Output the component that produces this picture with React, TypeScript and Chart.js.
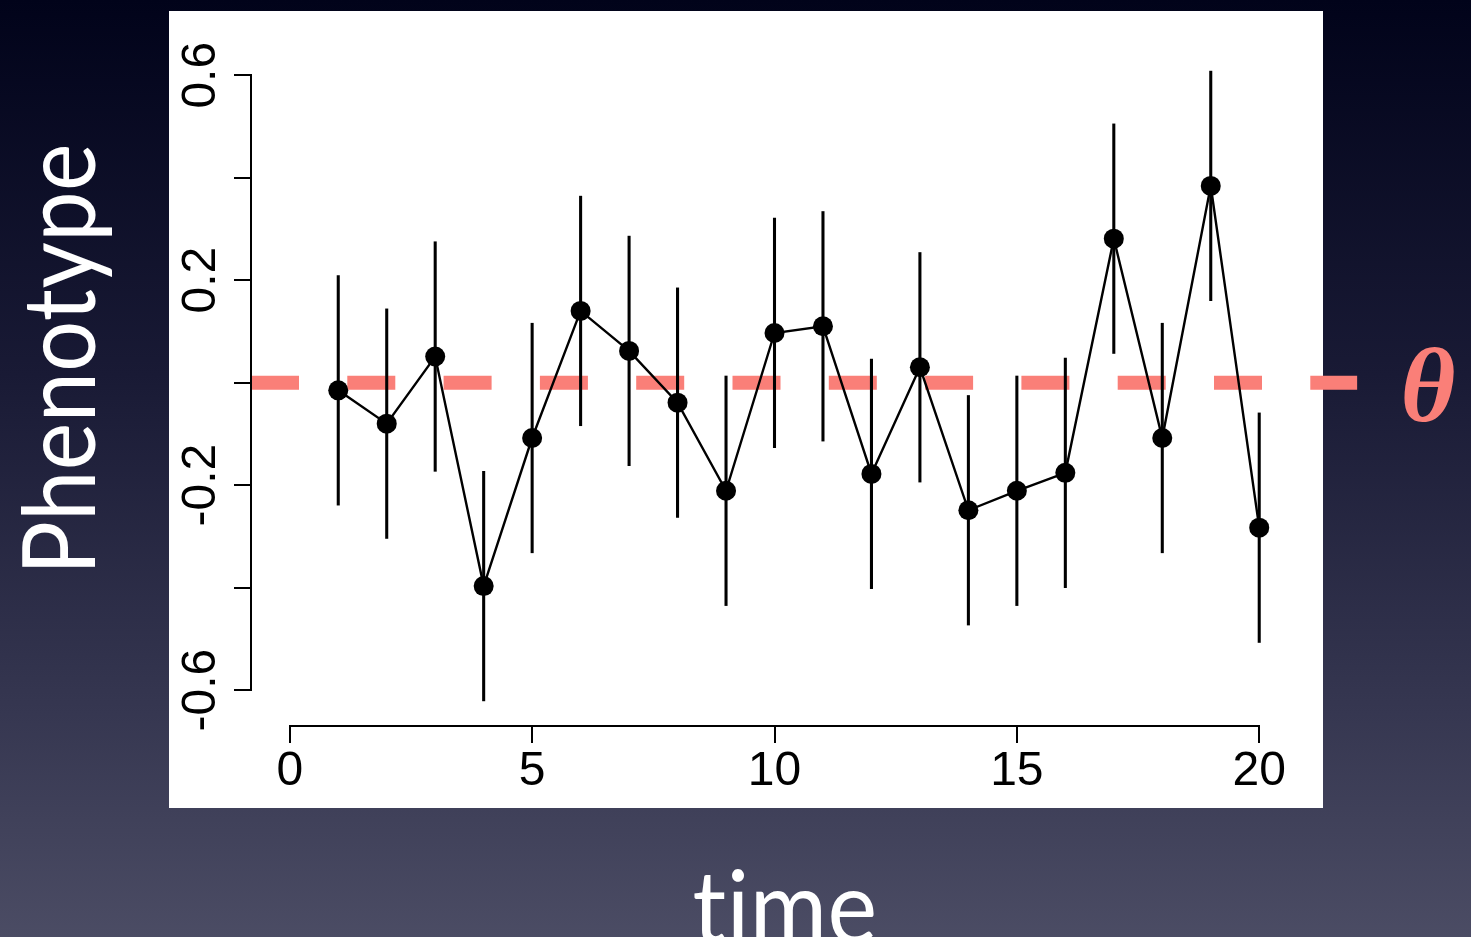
import React, { useEffect, useRef } from 'react';
import { Chart, registerables } from 'chart.js';

Chart.register(...registerables);

// ---- data ----
const times = [1, 2, 3, 4, 5, 6, 7, 8, 9, 10, 11, 12, 13, 14, 15, 16, 17, 18, 19, 20];
const phenotype = [
  -0.015, -0.08, 0.051, -0.397, -0.108, 0.14, 0.062, -0.039, -0.211, 0.097,
  0.11, -0.178, 0.03, -0.249, -0.211, -0.176, 0.281, -0.108, 0.384, -0.283,
];
const errorHalfWidth = [
  0.224, 0.224, 0.224, 0.224, 0.224, 0.224, 0.224, 0.224, 0.224, 0.224,
  0.224, 0.224, 0.224, 0.224, 0.224, 0.224, 0.224, 0.224, 0.224, 0.224,
];
const theta = 0;
const thetaSpan = [-0.8, 22.02];

const xTickValues = [0, 5, 10, 15, 20];
const xTickLabels = ['0', '5', '10', '15', '20'];
const yTickValues = [-0.6, -0.4, -0.2, 0, 0.2, 0.4, 0.6];
const yTickLabels = ['-0.6', '', '-0.2', '', '0.2', '', '0.6'];

const xTitle = 'time';
const yTitle = 'Phenotype';
const thetaLabel = 'θ';

const SALMON = '#fa7f78';
const TICK_FONT = '"Liberation Sans", Arial, Helvetica, sans-serif';

export default function App() {
  const ref = useRef<HTMLCanvasElement>(null);

  useEffect(() => {
    const canvas = ref.current;
    if (!canvas) return;

    const decor = {
      id: 'decor',
      beforeDraw(chart: any) {
        const ctx = chart.ctx;
        ctx.save();
        ctx.fillStyle = '#ffffff';
        ctx.fillRect(169, 11, 1154, 797);
        ctx.restore();
      },
      afterDraw(chart: any) {
        const { ctx, chartArea, scales } = chart;
        const x = scales.x;
        const y = scales.y;
        ctx.save();
        // R-style axis lines spanning first to last tick
        ctx.strokeStyle = '#000';
        ctx.lineWidth = 2;
        ctx.beginPath();
        const ax = Math.round(chartArea.left);
        ctx.moveTo(ax, Math.round(y.getPixelForValue(yTickValues[yTickValues.length - 1])) - 1);
        ctx.lineTo(ax, Math.round(y.getPixelForValue(yTickValues[0])) + 1);
        const ay = Math.round(chartArea.bottom);
        ctx.moveTo(Math.round(x.getPixelForValue(xTickValues[0])) - 1, ay);
        ctx.lineTo(Math.round(x.getPixelForValue(xTickValues[xTickValues.length - 1])) + 1, ay);
        ctx.stroke();

        // axis titles
        ctx.fillStyle = '#ffffff';
        ctx.font = '100px Lato, "Open Sans", sans-serif';
        ctx.textAlign = 'center';
        ctx.textBaseline = 'alphabetic';
        try {
          (ctx as any).letterSpacing = '0.5px';
        } catch (e) {
          /* ignore */
        }
        const wy = ctx.measureText(yTitle).width;
        ctx.save();
        ctx.translate(95, 359);
        ctx.rotate(-Math.PI / 2);
        ctx.scale(432 / wy, 1);
        ctx.fillText(yTitle, 0, 0);
        ctx.restore();

        const wx = ctx.measureText(xTitle).width;
        ctx.save();
        ctx.translate(785, 943);
        ctx.scale(185 / wx, 1);
        ctx.fillText(xTitle, 0, 0);
        ctx.restore();
        try {
          (ctx as any).letterSpacing = '0px';
        } catch (e) {
          /* ignore */
        }

        // theta label
        ctx.fillStyle = SALMON;
        ctx.font = 'italic bold 106px "Liberation Serif", "DejaVu Serif", serif';
        ctx.textAlign = 'center';
        ctx.fillText(thetaLabel, 1428, 421);
        ctx.restore();
      },
    };

    const chart = new Chart(canvas, {
      type: 'line',
      data: {
        datasets: [
          {
            type: 'line',
            data: times.map((t, i) => ({ x: t, y: phenotype[i] })),
            borderColor: '#000',
            borderWidth: 2.4,
            pointRadius: 10,
            pointHoverRadius: 10,
            pointBackgroundColor: '#000',
            pointBorderWidth: 0,
            tension: 0,
            order: 1,
            clip: false,
          } as any,
          {
            type: 'bar',
            data: times.map((t, i) => ({
              x: t,
              y: [phenotype[i] - errorHalfWidth[i], phenotype[i] + errorHalfWidth[i]],
            })),
            backgroundColor: '#000',
            borderWidth: 0,
            barThickness: 2.4,
            order: 2,
            clip: false,
          } as any,
          {
            type: 'line',
            data: thetaSpan.map((v) => ({ x: v, y: theta })),
            borderColor: SALMON,
            borderWidth: 14,
            borderDash: [48, 48.3],
            borderCapStyle: 'butt',
            pointRadius: 0,
            fill: false,
            order: 3,
            clip: false,
          } as any,
        ],
      },
      options: {
        responsive: false,
        animation: false,
        devicePixelRatio: 1,
        events: [],
        layout: { padding: { left: 0, right: 173, top: 46, bottom: 0 } },
        plugins: { legend: { display: false }, tooltip: { enabled: false } },
        scales: {
          x: {
            type: 'linear',
            min: -0.8,
            max: 20.8,
            offset: false,
            afterBuildTicks: (s: any) => {
              s.ticks = xTickValues.map((v) => ({ value: v }));
            },
            afterFit: (s: any) => {
              s.height = 211;
            },
            grid: {
              offset: false,
              drawOnChartArea: false,
              drawTicks: true,
              tickLength: 17,
              color: '#000',
              lineWidth: 2,
            },
            border: { display: false },
            ticks: {
              autoSkip: false,
              maxRotation: 0,
              padding: 0,
              color: '#000',
              font: { family: TICK_FONT, size: 48 },
              callback: (_v: any, i: number) => xTickLabels[i],
            },
          },
          y: {
            type: 'linear',
            min: -0.67,
            max: 0.657,
            afterBuildTicks: (s: any) => {
              s.ticks = yTickValues.map((v) => ({ value: v }));
            },
            afterFit: (s: any) => {
              s.width = 251;
            },
            grid: {
              offset: false,
              drawOnChartArea: false,
              drawTicks: true,
              tickLength: 17,
              color: '#000',
              lineWidth: 2,
            },
            border: { display: false },
            ticks: {
              autoSkip: false,
              minRotation: 90,
              maxRotation: 90,
              crossAlign: 'center',
              padding: -9,
              color: '#000',
              font: { family: TICK_FONT, size: 48 },
              callback: (_v: any, i: number) => yTickLabels[i],
            },
          },
        },
      } as any,
      plugins: [decor],
    });

    return () => chart.destroy();
  }, []);

  return (
    <div
      style={{
        position: 'absolute',
        left: 0,
        top: 0,
        width: 1471,
        height: 937,
        overflow: 'hidden',
        background: 'linear-gradient(to bottom, #01031a 0%, #191a35 40%, #353650 75%, #4b4c64 100%)',
      }}
    >
      <canvas ref={ref} width={1471} height={937} style={{ display: 'block', width: 1471, height: 937 }} />
    </div>
  );
}
